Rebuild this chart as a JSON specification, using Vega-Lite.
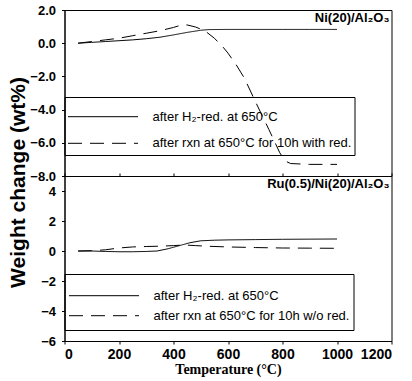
{
  "$schema": "https://vega.github.io/schema/vega-lite/v6.json",
  "padding": {"left": 6.5, "top": 3, "right": 5, "bottom": 4},
  "background": "white",
  "config": {
    "font": "Liberation Sans",
    "view": {"stroke": "black", "strokeWidth": 1},
    "axis": {"grid": false, "domainColor": "black", "tickColor": "black", "labelColor": "black", "titleColor": "black", "labelFont": "Liberation Sans", "labelFontWeight": "bold", "tickSize": 3, "domainWidth": 1, "tickWidth": 1},
    "legend": {"labelColor": "black", "labelFont": "Liberation Sans", "labelFontSize": 13, "labelOffset": 14, "labelLimit": 400, "symbolType": "stroke", "symbolSize": 4900, "symbolStrokeWidth": 1, "symbolStrokeColor": "black", "strokeColor": "black", "titleColor": "black"},
    "title": {"color": "black"}
  },
  "datasets": {
    "top": [
      {"series": "after H₂-red. at 650°C", "T": 50, "w": 0},
      {"series": "after H₂-red. at 650°C", "T": 100, "w": 0.05},
      {"series": "after H₂-red. at 650°C", "T": 150, "w": 0.1},
      {"series": "after H₂-red. at 650°C", "T": 200, "w": 0.15},
      {"series": "after H₂-red. at 650°C", "T": 250, "w": 0.2},
      {"series": "after H₂-red. at 650°C", "T": 300, "w": 0.27},
      {"series": "after H₂-red. at 650°C", "T": 350, "w": 0.36},
      {"series": "after H₂-red. at 650°C", "T": 400, "w": 0.5},
      {"series": "after H₂-red. at 650°C", "T": 450, "w": 0.65},
      {"series": "after H₂-red. at 650°C", "T": 500, "w": 0.78},
      {"series": "after H₂-red. at 650°C", "T": 530, "w": 0.82},
      {"series": "after H₂-red. at 650°C", "T": 600, "w": 0.83},
      {"series": "after H₂-red. at 650°C", "T": 700, "w": 0.83},
      {"series": "after H₂-red. at 650°C", "T": 800, "w": 0.83},
      {"series": "after H₂-red. at 650°C", "T": 900, "w": 0.83},
      {"series": "after H₂-red. at 650°C", "T": 1000, "w": 0.83},
      {"series": "after rxn at 650°C for 10h with red.", "T": 50, "w": 0},
      {"series": "after rxn at 650°C for 10h with red.", "T": 100, "w": 0.1},
      {"series": "after rxn at 650°C for 10h with red.", "T": 150, "w": 0.2},
      {"series": "after rxn at 650°C for 10h with red.", "T": 200, "w": 0.3},
      {"series": "after rxn at 650°C for 10h with red.", "T": 250, "w": 0.45},
      {"series": "after rxn at 650°C for 10h with red.", "T": 300, "w": 0.6},
      {"series": "after rxn at 650°C for 10h with red.", "T": 350, "w": 0.75},
      {"series": "after rxn at 650°C for 10h with red.", "T": 400, "w": 0.95},
      {"series": "after rxn at 650°C for 10h with red.", "T": 430, "w": 1.1},
      {"series": "after rxn at 650°C for 10h with red.", "T": 450, "w": 1.1},
      {"series": "after rxn at 650°C for 10h with red.", "T": 480, "w": 0.98},
      {"series": "after rxn at 650°C for 10h with red.", "T": 515, "w": 0.75},
      {"series": "after rxn at 650°C for 10h with red.", "T": 550, "w": 0.3},
      {"series": "after rxn at 650°C for 10h with red.", "T": 580, "w": -0.2},
      {"series": "after rxn at 650°C for 10h with red.", "T": 600, "w": -0.6},
      {"series": "after rxn at 650°C for 10h with red.", "T": 630, "w": -1.3},
      {"series": "after rxn at 650°C for 10h with red.", "T": 660, "w": -2.1},
      {"series": "after rxn at 650°C for 10h with red.", "T": 700, "w": -3.5},
      {"series": "after rxn at 650°C for 10h with red.", "T": 750, "w": -5.2},
      {"series": "after rxn at 650°C for 10h with red.", "T": 790, "w": -6.6},
      {"series": "after rxn at 650°C for 10h with red.", "T": 810, "w": -7.1},
      {"series": "after rxn at 650°C for 10h with red.", "T": 830, "w": -7.25},
      {"series": "after rxn at 650°C for 10h with red.", "T": 900, "w": -7.3},
      {"series": "after rxn at 650°C for 10h with red.", "T": 1000, "w": -7.3}
    ],
    "bottom": [
      {"series": "after H₂-red. at 650°C", "T": 50, "w": 0},
      {"series": "after H₂-red. at 650°C", "T": 100, "w": 0},
      {"series": "after H₂-red. at 650°C", "T": 150, "w": -0.03},
      {"series": "after H₂-red. at 650°C", "T": 200, "w": -0.05},
      {"series": "after H₂-red. at 650°C", "T": 250, "w": -0.05},
      {"series": "after H₂-red. at 650°C", "T": 300, "w": -0.03},
      {"series": "after H₂-red. at 650°C", "T": 340, "w": 0},
      {"series": "after H₂-red. at 650°C", "T": 380, "w": 0.15},
      {"series": "after H₂-red. at 650°C", "T": 420, "w": 0.35},
      {"series": "after H₂-red. at 650°C", "T": 460, "w": 0.55},
      {"series": "after H₂-red. at 650°C", "T": 500, "w": 0.68},
      {"series": "after H₂-red. at 650°C", "T": 550, "w": 0.72},
      {"series": "after H₂-red. at 650°C", "T": 600, "w": 0.74},
      {"series": "after H₂-red. at 650°C", "T": 700, "w": 0.76},
      {"series": "after H₂-red. at 650°C", "T": 800, "w": 0.78},
      {"series": "after H₂-red. at 650°C", "T": 900, "w": 0.79},
      {"series": "after H₂-red. at 650°C", "T": 1000, "w": 0.8},
      {"series": "after rxn at 650°C for 10h w/o red.", "T": 50, "w": 0},
      {"series": "after rxn at 650°C for 10h w/o red.", "T": 100, "w": 0.02},
      {"series": "after rxn at 650°C for 10h w/o red.", "T": 150, "w": 0.08},
      {"series": "after rxn at 650°C for 10h w/o red.", "T": 200, "w": 0.2},
      {"series": "after rxn at 650°C for 10h w/o red.", "T": 250, "w": 0.27},
      {"series": "after rxn at 650°C for 10h w/o red.", "T": 300, "w": 0.3},
      {"series": "after rxn at 650°C for 10h w/o red.", "T": 350, "w": 0.32},
      {"series": "after rxn at 650°C for 10h w/o red.", "T": 400, "w": 0.36},
      {"series": "after rxn at 650°C for 10h w/o red.", "T": 440, "w": 0.4},
      {"series": "after rxn at 650°C for 10h w/o red.", "T": 480, "w": 0.36},
      {"series": "after rxn at 650°C for 10h w/o red.", "T": 520, "w": 0.32},
      {"series": "after rxn at 650°C for 10h w/o red.", "T": 600, "w": 0.27},
      {"series": "after rxn at 650°C for 10h w/o red.", "T": 700, "w": 0.23},
      {"series": "after rxn at 650°C for 10h w/o red.", "T": 800, "w": 0.2},
      {"series": "after rxn at 650°C for 10h w/o red.", "T": 900, "w": 0.19},
      {"series": "after rxn at 650°C for 10h w/o red.", "T": 1000, "w": 0.18}
    ]
  },
  "spacing": 0,
  "bounds": "flush",
  "resolve": {"scale": {"strokeDash": "independent", "x": "independent", "y": "independent"}, "legend": {"strokeDash": "independent"}},
  "vconcat": [
    {
      "width": 327,
      "height": 166,
      "title": {"text": "Ni(20)/Al₂O₃", "anchor": "end", "frame": "group", "baseline": "top", "offset": -21, "dx": -2, "fontSize": 13, "fontWeight": "bold", "font": "Liberation Sans"},
      "data": {"name": "top"},
      "mark": {"type": "line", "color": "black", "strokeWidth": 1},
      "encoding": {
        "x": {"field": "T", "type": "quantitative", "scale": {"domain": [0, 1200], "nice": false},
              "axis": {"labels": false, "title": null, "values": [0, 200, 400, 600, 800, 1000, 1200], "tickSize": -3}},
        "y": {"field": "w", "type": "quantitative", "scale": {"domain": [-8, 2], "nice": false},
              "axis": {"values": [-8, -6, -4, -2, 0, 2], "format": ".1f", "labelFontSize": 13, "labelPadding": 6,
                       "title": "Weight change (wt%)", "titleFont": "Liberation Sans", "titleFontWeight": "bold", "titleFontSize": 21,
                       "titleX": -46, "titleY": 172, "titleAngle": 270, "titleAlign": "center", "titleBaseline": "middle"}},
        "strokeDash": {"field": "series", "type": "nominal",
                       "scale": {"domain": ["after H₂-red. at 650°C", "after rxn at 650°C for 10h with red."], "range": [[1, 0], [14, 8]]},
                       "legend": {"title": " ", "titleFontSize": 7, "titlePadding": 1.7, "orient": "none", "legendX": 0, "legendY": 87, "padding": 3, "clipHeight": 16, "rowPadding": 10.6}}
      }
    },
    {
      "width": 327,
      "height": 165,
      "title": {"text": "Ru(0.5)/Ni(20)/Al₂O₃", "anchor": "end", "frame": "group", "baseline": "top", "offset": -15, "dx": -2, "fontSize": 13, "fontWeight": "bold", "font": "Liberation Sans"},
      "data": {"name": "bottom"},
      "mark": {"type": "line", "color": "black", "strokeWidth": 1},
      "encoding": {
        "x": {"field": "T", "type": "quantitative", "scale": {"domain": [0, 1200], "nice": false},
              "axis": {"values": [0, 200, 400, 600, 800, 1000, 1200], "format": "d", "labelFontSize": 14, "labelPadding": 3,
                       "title": "Temperature (°C)", "titleFont": "Liberation Serif", "titleFontWeight": "bold", "titleFontSize": 14,
                       "titleY": 32, "titleBaseline": "alphabetic"}},
        "y": {"field": "w", "type": "quantitative", "scale": {"domain": [-6, 5], "nice": false},
              "axis": {"values": [-6, -4, -2, 0, 2, 4], "format": "d", "labelFontSize": 13, "labelPadding": 6, "title": null}},
        "strokeDash": {"field": "series", "type": "nominal",
                       "scale": {"domain": ["after H₂-red. at 650°C", "after rxn at 650°C for 10h w/o red."], "range": [[1, 0], [14, 8]]},
                       "legend": {"title": " ", "titleFontSize": 6, "titlePadding": 1.7, "orient": "none", "legendX": 0, "legendY": 98, "padding": 4, "clipHeight": 20, "rowPadding": 0}}
      }
    }
  ]
}
